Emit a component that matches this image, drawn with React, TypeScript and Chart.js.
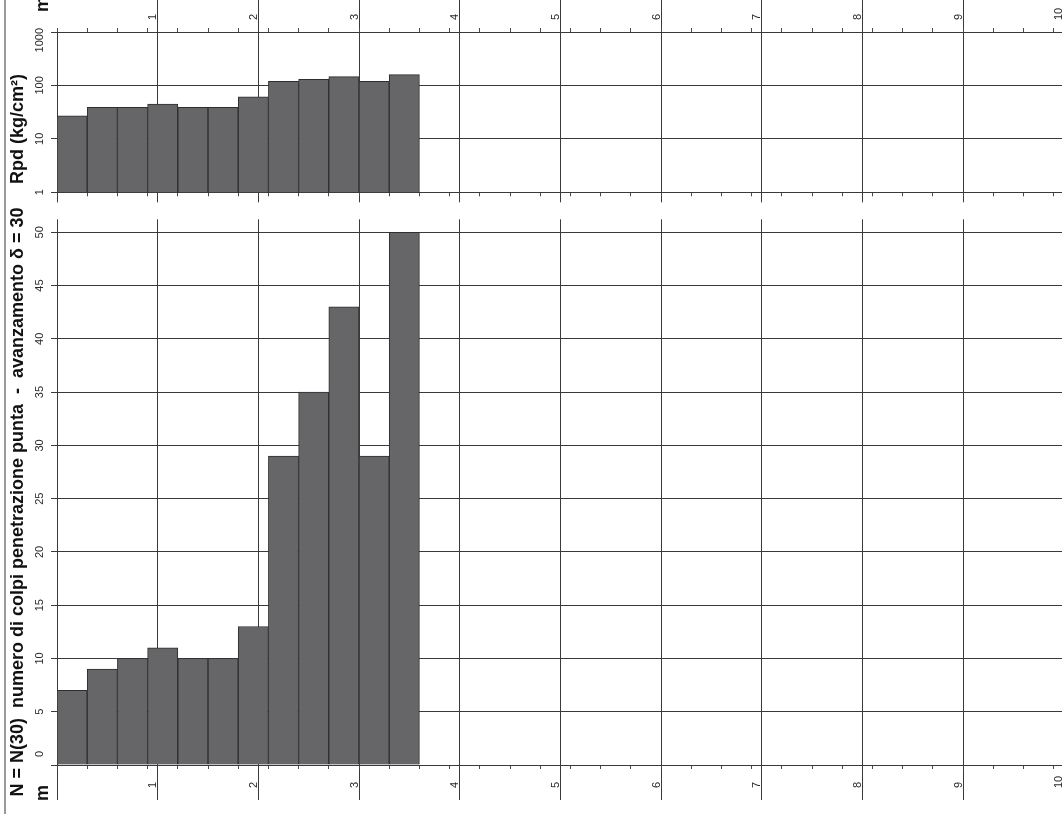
import React, { useEffect, useRef } from 'react';
import { Chart, registerables } from 'chart.js';

Chart.register(...registerables);

// ---- data ----
const depthBottoms = [0.3, 0.6, 0.9, 1.2, 1.5, 1.8, 2.1, 2.4, 2.7, 3.0, 3.3, 3.6];
const blowsN30 = [7, 9, 10, 11, 10, 10, 13, 29, 35, 43, 29, 50];
const rpdValues = [27, 39, 39, 45, 39, 39, 61, 119, 130, 146, 119, 159];
const depthTickValues = [0, 1, 2, 3, 4, 5, 6, 7, 8, 9, 10];
const depthTickLabels = ['', '1', '2', '3', '4', '5', '6', '7', '8', '9', '10'];
const nTickValues = [0, 5, 10, 15, 20, 25, 30, 35, 40, 45, 50];
const nTickLabels = ['0', '5', '10', '15', '20', '25', '30', '35', '40', '45', '50'];
const rpdTickValues = [1, 10, 100, 1000];
const rpdTickLabels = ['1', '10', '100', '1000'];
const stepLength = 0.3;
const depthMax = 10;

// ---- style ----
const CANVAS_W = 1072;
const PLOT_LEFT = 57;
const PLOT_RIGHT = 1063.7;
const GRID = '#3a3a3a';
const MINOR = '#4a4a4a';
const BAR_FILL = '#666668';
const BAR_EDGE = '#2e2e2e';
const TICK_FONT = '11px "Liberation Sans", Arial, sans-serif';
const TICK_COLOR = '#2a2a2a';

const minorTickValues: number[] = [];
for (let k = 0; k * stepLength < depthMax - 1e-9; k++) minorTickValues.push(+(k * stepLength).toFixed(2));

const setTicks = (vals: number[]) => (s: any) => {
  s.ticks = vals.map((v) => ({ value: v }));
};
const zeroHeight = (s: any) => {
  s.height = 0;
};
const zeroWidth = (s: any) => {
  s.width = 0;
};

function xAxis(position: string, vals: number[], tickLength: number, onArea: boolean, border: boolean, hideZeroTick = false) {
  return {
    type: 'linear',
    position,
    min: 0,
    max: depthMax,
    offset: false,
    afterBuildTicks: setTicks(vals),
    afterFit: zeroHeight,
    ticks: { display: false },
    grid: {
      offset: false,
      drawOnChartArea: onArea,
      drawTicks: true,
      tickLength,
      color: GRID,
      lineWidth: 1,
      tickWidth: 1,
      tickColor: (ctx: any) => (hideZeroTick && ctx.tick && ctx.tick.value === 0 ? 'rgba(0,0,0,0)' : vals.length > 12 ? MINOR : GRID),
    },
    border: { display: border, color: GRID, width: 1 },
  };
}

function labelPlugin(opts: {
  xScaleId: string;
  xLabelStartY: number;
  yValues: number[];
  yLabels: string[];
  minTop: number;
  maxBottom: number;
}) {
  return {
    id: 'axisLabels',
    afterDraw(chart: any) {
      const ctx = chart.ctx;
      const xs = chart.scales[opts.xScaleId];
      const ys = chart.scales.y;
      ctx.save();
      ctx.font = TICK_FONT;
      ctx.fillStyle = TICK_COLOR;
      // depth labels
      depthTickValues.forEach((v, i) => {
        const lab = depthTickLabels[i];
        if (!lab) return;
        const px = xs.getPixelForValue(v);
        ctx.save();
        ctx.translate(px - 1.5, opts.xLabelStartY);
        ctx.rotate(-Math.PI / 2);
        ctx.textAlign = 'left';
        ctx.textBaseline = 'alphabetic';
        ctx.fillText(lab, 0, 0);
        ctx.restore();
      });
      // value labels
      opts.yValues.forEach((v, i) => {
        const lab = opts.yLabels[i];
        const w = ctx.measureText(lab).width;
        let c = ys.getPixelForValue(v);
        if (c - w / 2 < opts.minTop) c = opts.minTop + w / 2;
        if (c + w / 2 > opts.maxBottom) c = opts.maxBottom - w / 2;
        ctx.save();
        ctx.translate(42.5, c);
        ctx.rotate(-Math.PI / 2);
        ctx.textAlign = 'center';
        ctx.textBaseline = 'alphabetic';
        ctx.fillText(lab, 0, 0);
        ctx.restore();
      });
      ctx.restore();
    },
  };
}

const TOP_H = 215;
const TOP_AREA_TOP = 32;
const TOP_AREA_BOTTOM = 192.3;
const BOT_Y = 210;
const BOT_H = 604;
const BOT_AREA_TOP = 232.3 - BOT_Y;
const BOT_AREA_BOTTOM = 765 - BOT_Y;

function barDataset(values: number[], xAxisID: string) {
  return {
    type: 'bar',
    data: depthBottoms.map((d, i) => ({ x: d - stepLength / 2, y: values[i] })),
    xAxisID,
    yAxisID: 'y',
    backgroundColor: BAR_FILL,
    borderColor: BAR_EDGE,
    borderWidth: 1,
    barPercentage: 1,
    categoryPercentage: 1,
  };
}

function topConfig(): any {
  return {
    type: 'bar',
    data: { datasets: [barDataset(rpdValues, 'xMajorTop')] },
    options: {
      responsive: false,
      animation: false,
      events: [],
      layout: {
        padding: { left: PLOT_LEFT, right: CANVAS_W - PLOT_RIGHT, top: TOP_AREA_TOP, bottom: TOP_H - TOP_AREA_BOTTOM },
      },
      plugins: { legend: { display: false }, tooltip: { enabled: false } },
      scales: {
        xMajorTop: { ...xAxis('top', depthTickValues, 32, true, true, true), weight: 1 },
        xMinorTop: { ...xAxis('top', minorTickValues, 4, false, false), weight: 0 },
        xMajorBottom: { ...xAxis('bottom', depthTickValues, 10, false, true), weight: 1 },
        xMinorBottom: { ...xAxis('bottom', minorTickValues, 4, false, false), weight: 0 },
        y: {
          type: 'logarithmic',
          position: 'left',
          min: 1,
          max: 1000,
          afterBuildTicks: setTicks(rpdTickValues),
          afterFit: zeroWidth,
          ticks: { display: false },
          grid: { tickLength: 6, color: GRID, lineWidth: 1 },
          border: { display: true, color: GRID, width: 1 },
        },
      },
    },
    plugins: [
      labelPlugin({
        xScaleId: 'xMajorTop',
        xLabelStartY: 20,
        yValues: rpdTickValues,
        yLabels: rpdTickLabels,
        minTop: 28,
        maxBottom: 1000,
      }),
    ],
  };
}

function bottomConfig(): any {
  return {
    type: 'bar',
    data: { datasets: [barDataset(blowsN30, 'xMajorBottom')] },
    options: {
      responsive: false,
      animation: false,
      events: [],
      layout: {
        padding: { left: PLOT_LEFT, right: CANVAS_W - PLOT_RIGHT, top: BOT_AREA_TOP, bottom: BOT_H - BOT_AREA_BOTTOM },
      },
      plugins: { legend: { display: false }, tooltip: { enabled: false } },
      scales: {
        xMajorTop: { ...xAxis('top', depthTickValues, 13, false, false), weight: 1 },
        xMajorBottom: { ...xAxis('bottom', depthTickValues, 35, true, true), weight: 1 },
        xMinorBottom: { ...xAxis('bottom', minorTickValues, 4, false, false), weight: 0 },
        y: {
          type: 'linear',
          position: 'left',
          min: 0,
          max: 50,
          afterBuildTicks: setTicks(nTickValues),
          afterFit: zeroWidth,
          ticks: { display: false },
          grid: { tickLength: 6, color: GRID, lineWidth: 1 },
          border: { display: true, color: GRID, width: 1 },
        },
      },
    },
    plugins: [
      labelPlugin({
        xScaleId: 'xMajorBottom',
        xLabelStartY: 788 - BOT_Y,
        yValues: nTickValues,
        yLabels: nTickLabels,
        minTop: -1000,
        maxBottom: 757 - BOT_Y,
      }),
    ],
  };
}

function RotatedText(props: { cx: number; cy: number; text: string }) {
  return (
    <div
      style={{
        position: 'absolute',
        left: props.cx,
        top: props.cy,
        transform: 'translate(-50%, -50%) rotate(-90deg)',
        whiteSpace: 'pre',
        font: 'bold 18px "Liberation Sans", Arial, sans-serif',
        lineHeight: '18px',
        color: '#111111',
      }}
    >
      {props.text}
    </div>
  );
}

export default function App() {
  const topRef = useRef<HTMLCanvasElement>(null);
  const botRef = useRef<HTMLCanvasElement>(null);

  useEffect(() => {
    const c1 = new Chart(topRef.current as HTMLCanvasElement, topConfig());
    const c2 = new Chart(botRef.current as HTMLCanvasElement, bottomConfig());
    return () => {
      c1.destroy();
      c2.destroy();
    };
  }, []);

  return (
    <div
      style={{
        position: 'absolute',
        left: 0,
        top: 0,
        width: 1062,
        height: 814,
        overflow: 'hidden',
        background: '#ffffff',
      }}
    >
      <div style={{ position: 'absolute', left: 4, top: 0, width: 2, height: 814, background: '#9a9a9a' }} />
      <canvas
        ref={topRef}
        width={CANVAS_W}
        height={TOP_H}
        style={{ position: 'absolute', left: 0, top: 0, display: 'block' }}
      />
      <canvas
        ref={botRef}
        width={CANVAS_W}
        height={BOT_H}
        style={{ position: 'absolute', left: 0, top: BOT_Y, display: 'block' }}
      />
      <RotatedText cx={16.8} cy={129} text="Rpd (kg/cm²)" />
      <RotatedText cx={16.8} cy={501.5} text="N = N(30)  numero di colpi penetrazione punta  -  avanzamento δ = 30" />
      <RotatedText cx={41.5} cy={4} text="m" />
      <RotatedText cx={41.5} cy={793} text="m" />
    </div>
  );
}
